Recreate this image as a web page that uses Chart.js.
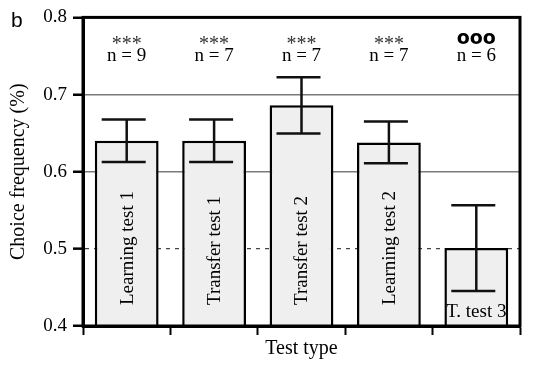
<!DOCTYPE html>
<html>
<head>
<meta charset="utf-8">
<script src="https://cdn.jsdelivr.net/npm/chart.js@4/dist/chart.umd.min.js"></script>
<style>
  html, body { margin: 0; padding: 0; background: #fff; }
  #wrap { width: 536px; height: 367px; }
</style>
</head>
<body>
<div id="wrap"><canvas id="bars"></canvas></div>
<script>
// values
const categories = ['Learning test 1', 'Transfer test 1', 'Transfer test 2', 'Learning test 2', 'T. test 3'];
const means = [0.640, 0.640, 0.686, 0.638, 0.501];
const errors = [0.0275, 0.0275, 0.0365, 0.027, 0.0555];
const marks = ['***', '***', '***', '***', 'ooo'];
const sampleSizes = [9, 7, 7, 7, 6];

const serif = 'Liberation Serif';
const roundTick = v => Math.round(v * 10) / 10;

// error bars on top of each bar
const errorBars = {
  id: 'errorBars',
  afterDatasetsDraw(chart) {
    const ctx = chart.ctx;
    const y = chart.scales.y;
    const meta = chart.getDatasetMeta(0);
    ctx.save();
    ctx.strokeStyle = '#111';
    ctx.lineWidth = 2.5;
    meta.data.forEach((bar, i) => {
      const hi = y.getPixelForValue(means[i] + errors[i]);
      const lo = y.getPixelForValue(means[i] - errors[i]);
      const x = bar.x;
      ctx.beginPath();
      ctx.moveTo(x, hi); ctx.lineTo(x, lo);
      ctx.moveTo(x - 25, hi); ctx.lineTo(x + 19, hi);
      ctx.moveTo(x - 25, lo); ctx.lineTo(x + 19, lo);
      ctx.stroke();
    });
    ctx.restore();
  }
};

// names inside the bars, significance and n above
const barText = {
  id: 'barText',
  afterDatasetsDraw(chart) {
    const ctx = chart.ctx;
    const y = chart.scales.y;
    const bottom = y.getPixelForValue(y.min);
    const meta = chart.getDatasetMeta(0);
    ctx.save();
    ctx.fillStyle = '#000';
    meta.data.forEach((bar, i) => {
      ctx.font = '19px "' + serif + '"';
      if (i < 4) {
        ctx.save();
        ctx.translate(bar.x + 1, bottom - 21);
        ctx.rotate(-Math.PI / 2);
        ctx.textAlign = 'left';
        ctx.textBaseline = 'middle';
        ctx.fillText(categories[i], 0, 0);
        ctx.restore();
      } else {
        ctx.textAlign = 'center';
        ctx.textBaseline = 'alphabetic';
        ctx.fillText(categories[i], bar.x, bottom - 9);
      }
      ctx.textAlign = 'center';
      ctx.textBaseline = 'alphabetic';
      ctx.fillText('n = ' + sampleSizes[i], bar.x, 61);
      if (marks[i] === 'ooo') {
        ctx.font = 'bold 19px "DejaVu Sans"';
        ctx.fillText(marks[i], bar.x, 44);
      } else {
        ctx.fillStyle = '#333';
        ctx.font = '20px "' + serif + '"';
        ctx.fillText(marks[i], bar.x, 50);
        ctx.fillStyle = '#000';
      }
    });
    ctx.restore();
  }
};

const frame = {
  id: 'frame',
  afterDraw(chart) {
    const {ctx, chartArea: a} = chart;
    ctx.save();
    ctx.strokeStyle = '#000';
    ctx.lineWidth = 3;
    ctx.strokeRect(a.left, a.top, a.right - a.left, a.bottom - a.top);
    ctx.fillStyle = '#000';
    ctx.font = '21px "Liberation Sans"';
    ctx.textAlign = 'left';
    ctx.fillText('b', 11, 27);
    ctx.restore();
  }
};

new Chart(document.getElementById('bars'), {
  type: 'bar',
  data: {
    labels: categories,
    datasets: [{
      data: means,
      backgroundColor: '#efefef',
      borderColor: '#000',
      borderWidth: 2.5,
      borderSkipped: false,
      categoryPercentage: 1,
      barPercentage: 0.73
    }]
  },
  options: {
    responsive: true,
    maintainAspectRatio: false,
    animation: false,
    layout: { padding: { top: 16, right: 16, left: 0, bottom: 0 } },
    plugins: { legend: { display: false }, tooltip: { enabled: false } },
    scales: {
      x: {
        grid: {
          offset: true,
          drawOnChartArea: false,
          tickLength: 9,
          tickColor: '#000',
          tickWidth: 2
        },
        border: { color: '#000', width: 3 },
        ticks: { display: false },
        title: {
          display: true,
          text: 'Test type',
          color: '#000',
          font: { family: serif, size: 20 },
          padding: { top: 0, bottom: 6 }
        },
        afterFit(s) { s.height = 41; }
      },
      y: {
        min: 0.4,
        max: 0.8,
        ticks: {
          stepSize: 0.1,
          color: '#000',
          padding: 6,
          font: { family: serif, size: 19 },
          callback: v => roundTick(v).toFixed(1)
        },
        grid: {
          color: c => {
            const v = roundTick(c.tick.value);
            if (v === 0.4 || v === 0.8) return 'rgba(0,0,0,0)';
            return v === 0.5 ? '#444' : '#7a7a7a';
          },
          lineWidth: c => roundTick(c.tick.value) === 0.5 ? 1.3 : 1.5,
          tickColor: '#000',
          tickWidth: 2.5,
          tickLength: 10
        },
        border: {
          color: '#000',
          width: 3,
          dash: c => (c.tick && roundTick(c.tick.value) === 0.5) ? [4, 5] : []
        },
        title: {
          display: true,
          text: 'Choice frequency (%)',
          color: '#000',
          font: { family: serif, size: 20 },
          padding: { top: 7, bottom: 0 }
        },
        afterFit(s) { s.width = 83; }
      }
    }
  },
  plugins: [errorBars, barText, frame]
});
</script>
</body>
</html>
